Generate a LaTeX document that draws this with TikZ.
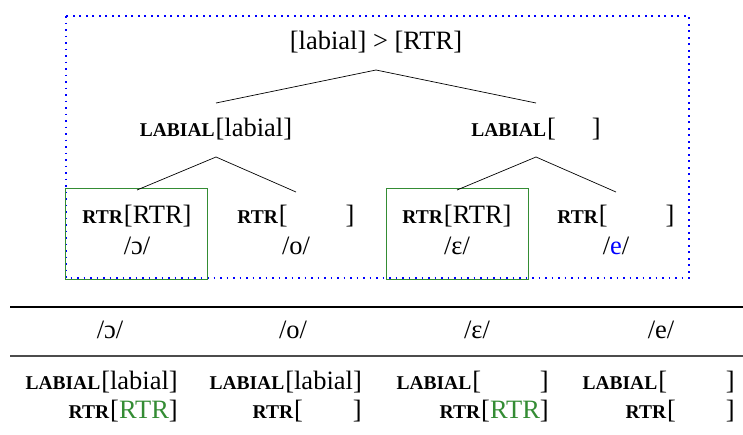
\documentclass[tikz,border=0pt]{standalone}
\usepackage{fontspec}
\setmainfont{Liberation Serif}
\definecolor{rtrgreen}{RGB}{52,140,52}
\newcommand{\fsc}[1]{{\fontsize{19.5}{21}\selectfont\bfseries #1}\kern1pt}
\newcommand{\blank}[1]{[\phantom{#1}]}
\begin{document}
\begin{tikzpicture}[x=1pt,y=-1pt,
  txt/.style={inner sep=0pt,font=\fontsize{26.5}{30}\selectfont},
  branch/.style={line width=0.7pt},
  hlbox/.style={draw=rtrgreen,line width=1pt},
  frame/.style={draw=blue,line width=1.6pt,dash pattern=on 1.6pt off 4.9pt},
  rulethick/.style={line width=1.6pt},
  rulethin/.style={line width=1.3pt,draw=black!70}]
\useasboundingbox (0,0) rectangle (743,434);

% dotted frame around the tree
\draw[frame] (66,16) rectangle (689,278);

% green highlight boxes
\draw[hlbox] (65,188) rectangle (207,279);
\draw[hlbox] (386,188) rectangle (528,279);

% tree nodes
\node[txt] (root) at (376,42) {[labial] > [RTR]};
\node[txt] (labL) at (216,129) {\fsc{LABIAL}[labial]};
\node[txt] (labR) at (536,129) {\fsc{LABIAL}[\hspace{36pt}]};
\node[txt] (rtr1) at (137,216) {\fsc{RTR}[RTR]};
\node[txt] (rtr2) at (296,216) {\fsc{RTR}[\hspace{58pt}]};
\node[txt] (rtr3) at (457,216) {\fsc{RTR}[RTR]};
\node[txt] (rtr4) at (616,216) {\fsc{RTR}[\hspace{58pt}]};
\node[txt] (v1) at (137,246) {/ɔ/};
\node[txt] (v2) at (296,246) {/o/};
\node[txt] (v3) at (457,246) {/ɛ/};
\node[txt] (v4) at (616,246) {/\textcolor{blue}{e}/};

% branch points
\coordinate (rootB) at (376,70);
\coordinate (labLT) at (216,103);
\coordinate (labRT) at (536,103);
\coordinate (labLB) at (216,157);
\coordinate (labRB) at (536,157);
\coordinate (rtr1T) at (137,190);
\coordinate (rtr2T) at (296,192);
\coordinate (rtr3T) at (457,190);
\coordinate (rtr4T) at (616,192);

\draw[branch] (labLT) -- (rootB) -- (labRT);
\draw[branch] (rtr1T) -- (labLB) -- (rtr2T);
\draw[branch] (rtr3T) -- (labRB) -- (rtr4T);

% table
\coordinate (ruleAL) at (10,307);
\coordinate (ruleAR) at (743,307);
\coordinate (ruleBL) at (10,356);
\coordinate (ruleBR) at (743,356);
\draw[rulethick] (ruleAL) -- (ruleAR);
\draw[rulethin] (ruleBL) -- (ruleBR);

\node[txt] (h1) at (110,330) {/ɔ/};
\node[txt] (h2) at (293,330) {/o/};
\node[txt] (h3) at (477,330) {/ɛ/};
\node[txt] (h4) at (661,330) {/e/};

\node[txt,anchor=east] (t1a) at (178,382) {\fsc{LABIAL}[labial]};
\node[txt,anchor=east] (t1b) at (178,411) {\fsc{RTR}[\textcolor{rtrgreen}{RTR}]};
\node[txt,anchor=east] (t2a) at (362,382) {\fsc{LABIAL}[labial]};
\node[txt,anchor=east] (t2b) at (362,411) {\fsc{RTR}\blank{RTR}};
\node[txt,anchor=east] (t3a) at (549,382) {\fsc{LABIAL}\blank{labial}};
\node[txt,anchor=east] (t3b) at (549,411) {\fsc{RTR}[\textcolor{rtrgreen}{RTR}]};
\node[txt,anchor=east] (t4a) at (735,382) {\fsc{LABIAL}\blank{labial}};
\node[txt,anchor=east] (t4b) at (735,411) {\fsc{RTR}\blank{RTR}};
\end{tikzpicture}
\end{document}
